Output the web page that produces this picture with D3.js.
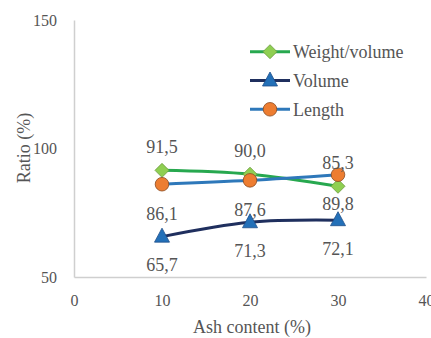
<!DOCTYPE html>
<html>
<head>
<meta charset="utf-8">
<script src="https://cdn.jsdelivr.net/npm/d3@7"></script>
<style>
  html, body { margin: 0; padding: 0; background: #fff; }
  svg { display: block; }
</style>
</head>
<body>
<svg id="chart" width="431" height="338"></svg>
<script>
// Ash content levels (%)
const ashContent = [10, 20, 30];

// Ratios (%) for each measured property
const weightVolume = [91.5, 90.0, 85.3];
const volume = [65.7, 71.3, 72.1];
const length = [86.1, 87.6, 89.8];

const seriesNames = ["Weight/volume", "Volume", "Length"];

const xTicks = [0, 10, 20, 30, 40];
const yTicks = [50, 100, 150];

const FONT = "Liberation Serif, DejaVu Serif, serif";
const TEXT_COLOR = "#555555";

const series = [
  { name: seriesNames[0], values: weightVolume, line: "#27a84f", fill: "#8fcf52", stroke: "#6a9a3c", marker: "diamond", labelDy: -24 },
  { name: seriesNames[1], values: volume, line: "#1f2f5e", fill: "#2370b8", stroke: "#1f4f8a", marker: "triangle", labelDy: 28 },
  { name: seriesNames[2], values: length, line: "#2e78ba", fill: "#ed7d31", stroke: "#8a4a20", marker: "circle", labelDy: 29 }
];

const svg = d3.select("#chart")
  .attr("font-family", FONT);

const x = d3.scaleLinear().domain([0, 40]).range([74, 426]);
const y = d3.scaleLinear().domain([50, 150]).range([277, 20]);

// Axes (lines only, no tick marks)
const xAxis = svg.append("g").attr("transform", `translate(0,${y(50)})`)
  .call(d3.axisBottom(x).tickValues(xTicks).tickSize(0).tickPadding(18).tickFormat(d3.format("d")));
xAxis.attr("font-family", FONT).attr("font-size", 16);
xAxis.select(".domain").attr("stroke", "#cfcfcf").attr("stroke-width", 1.5);
xAxis.selectAll("text").attr("fill", TEXT_COLOR);

const yAxis = svg.append("g").attr("transform", `translate(${x(0)},0)`)
  .call(d3.axisLeft(y).tickValues(yTicks).tickSize(0).tickPadding(17).tickFormat(d3.format("d")));
yAxis.attr("font-family", FONT).attr("font-size", 16);
yAxis.select(".domain").attr("stroke", "#cfcfcf").attr("stroke-width", 1.5);
yAxis.selectAll("text").attr("fill", TEXT_COLOR);

// Axis titles
svg.append("text")
  .attr("x", 252).attr("y", 333)
  .attr("text-anchor", "middle")
  .attr("font-size", 18).attr("fill", TEXT_COLOR)
  .text("Ash content (%)");

svg.append("text")
  .attr("transform", "translate(30,148) rotate(-90)")
  .attr("text-anchor", "middle")
  .attr("font-size", 18).attr("fill", TEXT_COLOR)
  .text("Ratio (%)");

const line = d3.line()
  .x((d, i) => x(ashContent[i]))
  .y(d => y(d))
  .curve(d3.curveCatmullRom.alpha(0.5));

function drawMarker(g, type, cx, cy, s) {
  if (type === "diamond") {
    g.append("path")
      .attr("d", `M${cx},${cy - 7}L${cx + 7},${cy}L${cx},${cy + 7}L${cx - 7},${cy}Z`)
      .attr("fill", s.fill).attr("stroke", s.stroke).attr("stroke-width", 0.8);
  } else if (type === "triangle") {
    g.append("path")
      .attr("d", `M${cx},${cy - 8.5}L${cx + 7.5},${cy + 5.5}L${cx - 7.5},${cy + 5.5}Z`)
      .attr("fill", s.fill).attr("stroke", s.stroke).attr("stroke-width", 0.8);
  } else {
    g.append("circle")
      .attr("cx", cx).attr("cy", cy).attr("r", 6.8)
      .attr("fill", s.fill).attr("stroke", s.stroke).attr("stroke-width", 0.8);
  }
}

// Lines first, then markers on top
series.forEach(s => {
  svg.append("path")
    .attr("d", line(s.values))
    .attr("fill", "none")
    .attr("stroke", s.line)
    .attr("stroke-width", 3);
});

series.forEach(s => {
  const g = svg.append("g");
  s.values.forEach((v, i) => drawMarker(g, s.marker, x(ashContent[i]), y(v), s));
});

// Value labels with comma decimal separator
const fmt = v => v.toFixed(1).replace(".", ",");
series.forEach(s => {
  s.values.forEach((v, i) => {
    svg.append("text")
      .attr("x", x(ashContent[i]))
      .attr("y", y(v) + s.labelDy)
      .attr("dy", "0.35em")
      .attr("text-anchor", "middle")
      .attr("font-size", 18).attr("fill", TEXT_COLOR)
      .text(fmt(v));
  });
});

// Legend
const legend = svg.append("g");
series.forEach((s, i) => {
  const ly = 51.7 + i * 28.8;
  legend.append("line")
    .attr("x1", 250).attr("x2", 290).attr("y1", ly).attr("y2", ly)
    .attr("stroke", s.line).attr("stroke-width", 3);
  drawMarker(legend, s.marker, 270, ly, s);
  legend.append("text")
    .attr("x", 293).attr("y", ly).attr("dy", "0.35em")
    .attr("font-size", 18).attr("fill", TEXT_COLOR)
    .text(s.name);
});
</script>
</body>
</html>
